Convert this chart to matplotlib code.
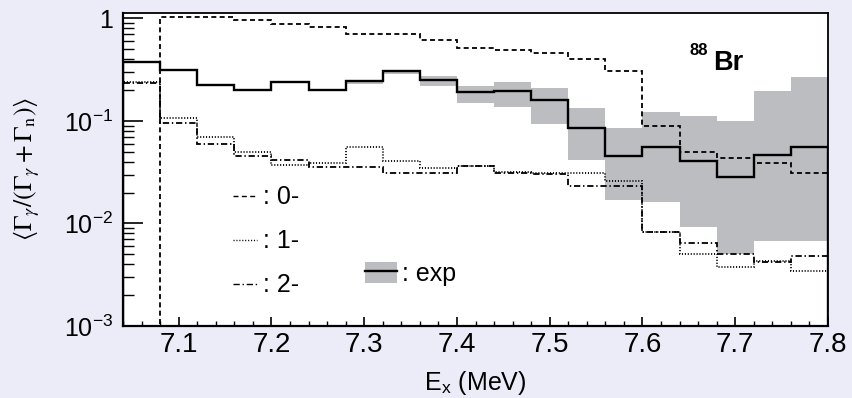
import matplotlib
matplotlib.use('Agg')
import matplotlib.pyplot as plt
import numpy as np
from matplotlib.lines import Line2D
from matplotlib.patches import Patch
from matplotlib.legend_handler import HandlerTuple
from matplotlib.ticker import LogLocator, MultipleLocator, FixedLocator, FixedFormatter

plt.rcParams['font.family'] = ['Liberation Sans', 'DejaVu Sans']
plt.rcParams['mathtext.fontset'] = 'stix'
plt.rcParams['lines.scale_dashes'] = False

# bin edges of the histograms (MeV)
edges = [7.04, 7.08, 7.12, 7.16, 7.20, 7.24, 7.28, 7.32, 7.36, 7.40,
         7.44, 7.48, 7.52, 7.56, 7.60, 7.64, 7.68, 7.72, 7.76, 7.80]

# experiment and its error band
exp_val = [0.38, 0.316, 0.225, 0.200, 0.240, 0.200, 0.246, 0.304, 0.252, 0.191,
           0.198, 0.161, 0.0857, 0.0456, 0.0555, 0.041, 0.0282, 0.0466, 0.0562]
exp_hi = [0.38, 0.316, 0.225, 0.200, 0.240, 0.200, 0.252, 0.316, 0.276, 0.220,
          0.241, 0.211, 0.135, 0.0861, 0.1236, 0.112, 0.101, 0.194, 0.268]
exp_lo = [0.38, 0.316, 0.225, 0.200, 0.240, 0.200, 0.231, 0.289, 0.217, 0.149,
          0.138, 0.0937, 0.0417, 0.0170, 0.0163, 0.0093, 0.00502, 0.00678, 0.00678]

# calculations per spin-parity
jp0 = [1e-6, 1.035, 1.035, 0.958, 0.890, 0.826, 0.710, 0.710, 0.611, 0.520,
       0.488, 0.460, 0.405, 0.304, 0.0896, 0.0502, 0.0433, 0.0387, 0.0309]
jp1 = [0.240, 0.106, 0.0704, 0.0502, 0.0368, 0.0392, 0.0555, 0.041, 0.0346, 0.0366,
       0.0320, 0.0310, 0.0310, 0.0261, 0.0083, 0.00502, 0.00378, 0.00430, 0.00345]
jp2 = [0.232, 0.096, 0.0593, 0.0459, 0.0417, 0.0358, 0.0353, 0.0309, 0.0309, 0.0360,
       0.0313, 0.0304, 0.0232, 0.0232, 0.0083, 0.00648, 0.00500, 0.00422, 0.00480]

bg = '#ececf9'
band_col = '#bcbdc0'
ls0 = (0, (3.6, 2.4))
ls1 = (0, (0.8, 1.3))
ls2 = (0, (4.5, 2.0, 1.0, 2.0))
fs = 18

fig = plt.figure(figsize=(8.52, 3.98), dpi=100, facecolor=bg)
ax = fig.add_axes([123 / 852, 1 - 326 / 398, (828 - 123) / 852, (326 - 13) / 398])
ax.set_yscale('log')

ax.stairs(exp_hi, edges, baseline=exp_lo, fill=True, color=band_col, lw=0)
ax.stairs(jp0, edges, color='black', lw=1.3, linestyle=ls0)
ax.stairs(jp1, edges, color='black', lw=1.3, linestyle=ls1)
ax.stairs(jp2, edges, color='black', lw=1.3, linestyle=ls2)
ax.stairs(exp_val, edges, color='black', lw=1.7)

ax.set_xlim(7.04, 7.80)
ax.set_ylim(1e-3, 1.13)

ax.xaxis.set_major_locator(MultipleLocator(0.1))
ax.xaxis.set_minor_locator(MultipleLocator(0.02))
ax.yaxis.set_major_locator(FixedLocator([1e-3, 1e-2, 1e-1, 1]))
ax.yaxis.set_major_formatter(FixedFormatter([r'$\mathregular{10^{-3}}$', r'$\mathregular{10^{-2}}$',
                                             r'$\mathregular{10^{-1}}$', '1']))
ax.yaxis.set_minor_locator(LogLocator(base=10, subs=np.arange(2, 10), numticks=20))
ax.yaxis.set_minor_formatter(plt.NullFormatter())

ax.tick_params(axis='both', which='both', direction='in', colors='black')
ax.tick_params(axis='y', which='major', length=14.4, width=1.2, pad=7, labelsize=fs)
ax.tick_params(axis='y', which='minor', length=8, width=1.0)
ax.tick_params(axis='x', which='major', length=6.7, width=1.2, pad=4, labelsize=20)
ax.tick_params(axis='x', which='minor', length=3.8, width=1.0)
for s in ax.spines.values():
    s.set_linewidth(1.3)
ax.spines['left'].set_linewidth(1.6)
ax.spines['bottom'].set_linewidth(1.6)

ax.set_xlabel(r'E$_{\mathregular{x}}$ (MeV)', fontsize=18)
ax.xaxis.set_label_coords(0.5, -0.138)
ax.set_ylabel(r'$\langle\Gamma_\gamma/(\Gamma_\gamma+\Gamma_{\rm n})\rangle$', fontsize=18.5)
ax.yaxis.set_label_coords(-0.115, 0.5)

ax.text(0.804, 0.866, '88', transform=ax.transAxes, fontsize=12, fontweight='bold', va='baseline')
ax.text(0.837, 0.818, 'Br', transform=ax.transAxes, fontsize=19.5, fontweight='bold', va='baseline')

h = [Line2D([], [], color='black', lw=1.0, linestyle=ls0),
     Line2D([], [], color='black', lw=1.0, linestyle=ls1),
     Line2D([], [], color='black', lw=1.0, linestyle=ls2)]
leg1 = ax.legend(h, [': 0-', ': 1-', ': 2-'], loc='upper left', frameon=False,
                 bbox_to_anchor=(233 / 852, 1 - 185.5 / 398), bbox_transform=fig.transFigure,
                 fontsize=fs, handlelength=0.96, handletextpad=0.24, labelspacing=0.8,
                 borderpad=0, borderaxespad=0)
ax.add_artist(leg1)
hexp = (Patch(facecolor=band_col, edgecolor='none'), Line2D([], [], color='black', lw=1.7))
ax.legend([hexp], [': exp'], handler_map={tuple: HandlerTuple(ndivide=1, pad=0)},
          loc='upper left', frameon=False,
          bbox_to_anchor=(365 / 852, 1 - 261.5 / 398), bbox_transform=fig.transFigure,
          fontsize=fs, handlelength=1.28, handleheight=0.96, handletextpad=0.2,
          borderpad=0, borderaxespad=0)

fig.savefig('out.png', dpi=100, facecolor=bg)
